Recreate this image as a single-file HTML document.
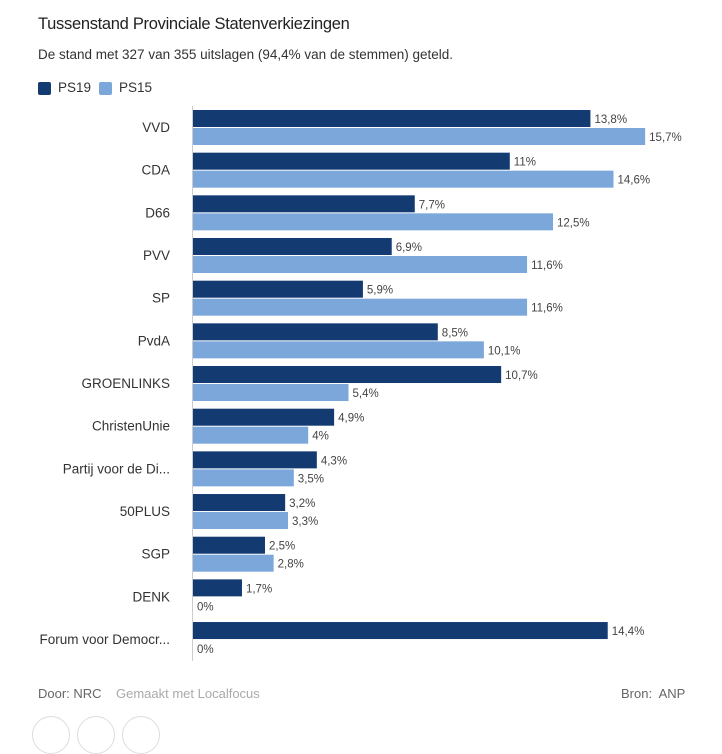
<!DOCTYPE html>
<html><head><meta charset="utf-8"><style>
body{margin:0;width:722px;height:722px;background:#fff;font-family:"Liberation Sans",sans-serif;color:#333;overflow:hidden;position:relative}
.t{position:absolute;white-space:nowrap}
</style></head><body>
<div class="t" style="left:38px;top:15px;font-size:16.5px;color:#222;letter-spacing:-0.3px">Tussenstand Provinciale Statenverkiezingen</div>
<div class="t" style="left:38px;top:47px;font-size:13.5px;color:#333">De stand met 327 van 355 uitslagen (94,4% van de stemmen) geteld.</div>
<div>
<div style="position:absolute;left:38px;top:82px;width:13px;height:13px;border-radius:2px;background:#143a72"></div>
<div class="t" style="left:58px;top:80px;font-size:13.5px">PS19</div>
<div style="position:absolute;left:99px;top:82px;width:13px;height:13px;border-radius:2px;background:#7ba7db"></div>
<div class="t" style="left:119px;top:80px;font-size:13.5px">PS15</div>
</div>
<svg id="chart" width="722" height="722" style="position:absolute;left:0;top:0"></svg>
<div class="t" style="left:38px;top:686px;font-size:13px;color:#666">Door: NRC</div>
<div class="t" style="left:116px;top:686px;font-size:13px;color:#aaa">Gemaakt met Localfocus</div>
<div class="t" style="left:621px;top:686px;font-size:13px;color:#666">Bron:&nbsp; ANP</div>
<div style="position:absolute;left:32px;top:716px;width:36px;height:36px;border:1px solid #ddd;border-radius:50%"></div>
<div style="position:absolute;left:77px;top:716px;width:36px;height:36px;border:1px solid #ddd;border-radius:50%"></div>
<div style="position:absolute;left:122px;top:716px;width:36px;height:36px;border:1px solid #ddd;border-radius:50%"></div>
<script>
const categories=["VVD","CDA","D66","PVV","SP","PvdA","GROENLINKS","ChristenUnie","Partij voor de Di...","50PLUS","SGP","DENK","Forum voor Democr..."];
const ps19=[13.8,11,7.7,6.9,5.9,8.5,10.7,4.9,4.3,3.2,2.5,1.7,14.4];
const ps15=[15.7,14.6,12.5,11.6,11.6,10.1,5.4,4,3.5,3.3,2.8,0,0];
const NS="http://www.w3.org/2000/svg";
const svg=document.getElementById('chart');
const x0=193,pxPer=28.8,y0=110,pitch=42.67,bh=17;
const xs=v=>x0+v*pxPer;
const fmt=v=>String(v).replace('.',',')+'%';
function el(tag,attrs){const e=document.createElementNS(NS,tag);for(const k in attrs)e.setAttribute(k,attrs[k]);svg.appendChild(e);return e;}
categories.forEach((c,i)=>{
  const y=y0+i*pitch;
  const lab=el('text',{x:170,y:y+bh+5,'text-anchor':'end','font-size':13.5,fill:'#333','font-family':'Liberation Sans, sans-serif'});
  lab.textContent=c;
  
  
  [[ps19,'#143a72',0,'ps19'],[ps15,'#7ba7db',bh+1,'ps15']].forEach(([arr,col,off,nm])=>{
    const v=arr[i];
    if(v>0){
      const r=el('rect',{x:x0,y:y+off,width:xs(v)-x0,height:bh,fill:col});
      
      
    }
    const t=el('text',{x:xs(v)+4,y:y+off+13,'font-size':11.5,fill:'#444','font-family':'Liberation Sans, sans-serif'});
    t.textContent=fmt(v);
    
    
  });
});
const ax=el('line',{x1:192.5,x2:192.5,y1:106,y2:661,stroke:'#ccc','stroke-width':1});


</script>
</body></html>
